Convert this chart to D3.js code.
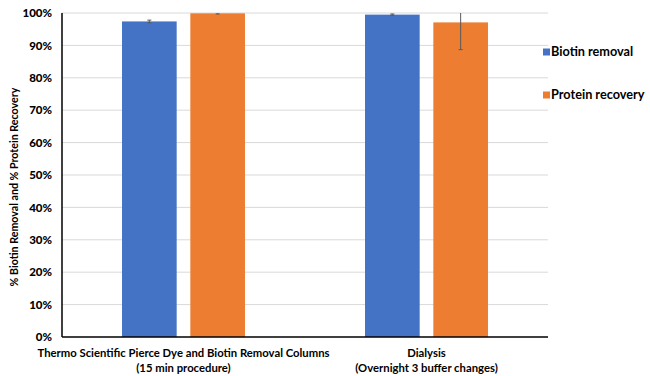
<!DOCTYPE html>
<html>
<head>
<meta charset="utf-8">
<script src="https://cdn.jsdelivr.net/npm/d3@7"></script>
<style>
  html, body { margin: 0; padding: 0; background: #fff; }
  svg { display: block; font-family: Lato, "Open Sans", sans-serif; }
</style>
</head>
<body>
<div id="chart"></div>
<script>
// ---- data ----
const categories = [
  ['Thermo Scientific Pierce Dye and Biotin Removal Columns', '(15 min procedure)'],
  ['Dialysis', '(Overnight 3 buffer changes)']
];
const seriesNames = ['Biotin removal', 'Protein recovery'];
const biotinRemoval = [97.4, 99.5];
const proteinRecovery = [99.9, 97.1];
const biotinError = [0.4, 0.2];
const proteinError = [0.2, 8.4];
const yTicks = [0, 10, 20, 30, 40, 50, 60, 70, 80, 90, 100];

const colors = ['#4472C4', '#ED7D31'];

const width = 650, height = 376;
const margin = { top: 13, right: 102, bottom: 39, left: 62 };
const innerW = width - margin.left - margin.right;
const innerH = height - margin.top - margin.bottom;

const svg = d3.select('#chart').append('svg')
  .attr('width', width)
  .attr('height', height);

const g = svg.append('g').attr('transform', `translate(${margin.left},${margin.top})`);

const x0 = d3.scaleBand()
  .domain(d3.range(categories.length))
  .range([0, innerW])
  .paddingInner(0.494)
  .paddingOuter(0.247);

const x1 = d3.scaleBand()
  .domain(d3.range(seriesNames.length))
  .range([0, x0.bandwidth()])
  .paddingInner(0.2);

const y = d3.scaleLinear().domain([0, 100]).range([innerH, 0]);

// gridlines
g.append('g')
  .selectAll('line')
  .data(yTicks.filter(d => d > 0))
  .join('line')
  .attr('x1', 0)
  .attr('x2', innerW)
  .attr('y1', d => y(d))
  .attr('y2', d => y(d))
  .attr('stroke', '#d9d9d9')
  .attr('stroke-width', 1);

// bars
const values = [biotinRemoval, proteinRecovery];
const errors = [biotinError, proteinError];
const bars = [];
categories.forEach((c, i) => {
  values.forEach((s, j) => {
    bars.push({ cat: i, ser: j, val: s[i], err: errors[j][i] });
  });
});

g.selectAll('.bar')
  .data(bars)
  .join('rect')
  .attr('class', 'bar')
  .attr('x', d => x0(d.cat) + x1(d.ser))
  .attr('width', x1.bandwidth())
  .attr('y', d => y(d.val))
  .attr('height', d => innerH - y(d.val))
  .attr('fill', d => colors[d.ser]);

// error bars (clipped at 100%)
const clamp = v => Math.max(0, Math.min(100, v));
const eb = g.selectAll('.err')
  .data(bars)
  .join('g')
  .attr('class', 'err')
  .attr('transform', d => `translate(${x0(d.cat) + x1(d.ser) + x1.bandwidth() / 2},0)`)
  .attr('stroke', '#595959')
  .attr('stroke-width', 1);

eb.append('line')
  .attr('y1', d => y(clamp(d.val + d.err)))
  .attr('y2', d => y(clamp(d.val - d.err)));

eb.append('line')
  .attr('x1', -2).attr('x2', 2)
  .attr('y1', d => y(clamp(d.val - d.err)))
  .attr('y2', d => y(clamp(d.val - d.err)));

eb.filter(d => d.val + d.err <= 100)
  .append('line')
  .attr('x1', -2).attr('x2', 2)
  .attr('y1', d => y(d.val + d.err))
  .attr('y2', d => y(d.val + d.err));

// axes lines
g.append('line')
  .attr('x1', 0).attr('x2', 0)
  .attr('y1', 0).attr('y2', innerH)
  .attr('stroke', '#000').attr('stroke-width', 1.5);

g.append('line')
  .attr('x1', 0).attr('x2', innerW)
  .attr('y1', innerH).attr('y2', innerH)
  .attr('stroke', '#000').attr('stroke-width', 1.5);

// y tick labels
const yAxis = g.append('g')
  .call(d3.axisLeft(y).tickValues(yTicks).tickFormat(d => d + '%').tickSize(0).tickPadding(10));
yAxis.select('.domain').remove();
yAxis.selectAll('text')
  .attr('font-family', 'Lato, sans-serif')
  .attr('font-size', 11.5)
  .attr('font-weight', 900)
  .attr('fill', '#000');

// x category labels
const xl = g.append('g')
  .selectAll('text')
  .data(categories)
  .join('text')
  .attr('x', (d, i) => x0(i) + x0.bandwidth() / 2)
  .attr('y', innerH + 20)
  .attr('text-anchor', 'middle')
  .attr('font-size', 11.3)
  .attr('font-weight', 'bold')
  .attr('fill', '#000');
xl.selectAll('tspan')
  .data(d => d)
  .join('tspan')
  .attr('x', function () { return this.parentNode.getAttribute('x'); })
  .attr('dy', (d, i) => i === 0 ? 0 : 14.5)
  .text(d => d);

// y title
svg.append('text')
  .attr('transform', `translate(18,187) rotate(-90)`)
  .attr('text-anchor', 'middle')
  .attr('font-size', 10.7)
  .attr('font-weight', 'bold')
  .attr('fill', '#000')
  .text('% Biotin Removal and % Protein Recovery');

// legend
const legend = svg.append('g')
  .selectAll('g')
  .data(seriesNames)
  .join('g')
  .attr('transform', (d, i) => `translate(543,${52 + i * 43})`);

legend.append('rect')
  .attr('x', 0).attr('y', -3.5)
  .attr('width', 7).attr('height', 7)
  .attr('fill', (d, i) => colors[i]);

legend.append('text')
  .attr('x', 8)
  .attr('y', 0)
  .attr('dy', '0.35em')
  .attr('font-size', 12.7)
  .attr('font-weight', 'bold')
  .attr('fill', '#000')
  .text(d => d);
</script>
</body>
</html>
